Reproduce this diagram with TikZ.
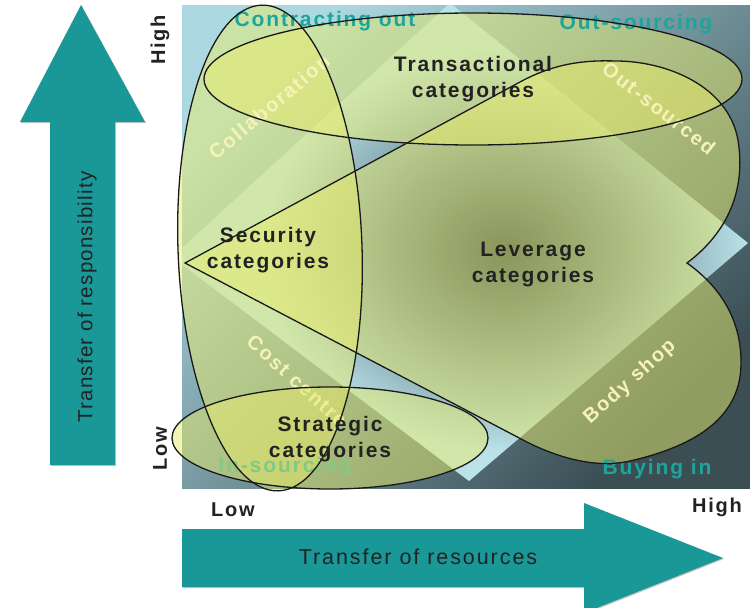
\documentclass[tikz,border=0pt]{standalone}
\usepackage{fontspec}
\setmainfont{Liberation Sans}
\newfontfamily\trk[LetterSpace=9]{Liberation Sans}
\newfontfamily\trknarrow[LetterSpace=6]{Liberation Sans}
\usetikzlibrary{fadings}
\definecolor{bgtl}{RGB}{172,216,226}
\definecolor{bgbr}{RGB}{58,78,84}
\definecolor{palec}{RGB}{186,226,232}
\definecolor{darkc}{RGB}{44,62,74}
\definecolor{ovl}{RGB}{232,236,108}
\definecolor{arrowteal}{RGB}{26,152,152}
\definecolor{cornerc}{RGB}{30,165,155}
\definecolor{edgec}{RGB}{246,242,184}
\definecolor{txtc}{RGB}{34,34,34}
\tikzfading[name=ctrfade, inner color=transparent!0, outer color=transparent!100]
\newcommand\blobshape{(185,263) -- (520,82) .. controls (555,63) and (585,60) .. (616,61) .. controls (665,61) and (728,85) .. (738,140) .. controls (746,190) and (728,232) .. (687,263) .. controls (718,285) and (742,318) .. (741,365) .. controls (740,415) and (700,445) .. (630,461) .. controls (595,469) and (556,457) .. (525,441) -- cycle}
\newcommand\diamondshape{(450,3) -- (748,243) -- (469,481) -- (172,257) -- cycle}
\tikzset{
  overlayfill/.style={fill=ovl, fill opacity=0.5},
  outline/.style={draw=black!90, line width=1.3pt},
  mainlbl/.style={font=\trk\bfseries\fontsize{21}{26}\selectfont, text=txtc, align=center, inner sep=0pt},
  cornerlbl/.style={font=\trk\bfseries\fontsize{21}{25}\selectfont, text=cornerc, inner sep=0pt},
  edgelbl/.style={font=\trk\bfseries\fontsize{20}{24}\selectfont, text=edgec, inner sep=0pt},
  axislbl/.style={font=\trk\fontsize{21.5}{26}\selectfont, text=txtc, inner sep=0pt},
  vaxislbl/.style={font=\trknarrow\fontsize{20.5}{26}\selectfont, text=txtc, inner sep=0pt},
  ticklbl/.style={font=\trk\bfseries\fontsize{20}{24}\selectfont, text=txtc, inner sep=0pt},
  arrowbody/.style={fill=arrowteal},
  arrowshadow/.style={fill=black!22},
}
\begin{document}
\begin{tikzpicture}[x=1pt,y=-1pt]
\useasboundingbox (0,0) rectangle (750,608);
% background of the matrix
\shade[top color=bgtl, bottom color=bgbr, shading angle=45] (182,5) rectangle (750,488);
% pale diamond with dark centre
\begin{scope}
  \clip (182,5) rectangle (750,488);
  \fill[palec] \diamondshape;
  \clip \diamondshape;
  \fill[darkc, path fading=ctrfade] (505,250) ellipse [x radius=240, y radius=200];
\end{scope}
% translucent fills
\path[overlayfill, rotate around={2:(270,248)}] (270,248) ellipse [x radius=92, y radius=243];
\path[overlayfill] (473,79) ellipse [x radius=269, y radius=66];
\path[overlayfill] \blobshape;
% corner labels
\node[cornerlbl] (contr) at (325,21) {Contracting out};
\node[cornerlbl] (outsrc) at (636,24) {Out-sourcing};
\node[cornerlbl] (insrc) at (285,467) {In-sourcing};
\node[cornerlbl] (buyin) at (657,469) {Buying in};
% edge labels
\node[edgelbl, rotate=40] (collab) at (269,107) {Collaboration};
\node[edgelbl, rotate=-38] (outsd) at (659,108) {Out-sourced};
\node[edgelbl, rotate=42] (body) at (630,382) {Body shop};
\node[edgelbl, rotate=-42] (cost) at (297,381) {Cost centre};
\path[overlayfill] (330,438) ellipse [x radius=158, y radius=51];
% outlines
\draw[outline, rotate around={2:(270,248)}] (270,248) ellipse [x radius=92, y radius=243];
\draw[outline] (473,79) ellipse [x radius=269, y radius=66];
\draw[outline] \blobshape;
\draw[outline] (330,438) ellipse [x radius=158, y radius=51];
% category labels
\node[mainlbl] (trans) at (473,79) {Transactional\\categories};
\node[mainlbl] (sec) at (268,250) {Security\\categories};
\node[mainlbl] (lev) at (533,264) {Leverage\\categories};
\node[mainlbl] (strat) at (330,439) {Strategic\\categories};
% axis arrows
\fill[arrowshadow] (51,466) -- (51,123) -- (21,123) -- (82,6) -- (146,123) -- (116,123) -- (116,466) -- cycle;
\fill[arrowbody] (50,465) -- (50,122) -- (20,122) -- (81,5) -- (145,122) -- (115,122) -- (115,465) -- cycle;
\fill[arrowshadow] (183,530) -- (585,530) -- (585,504) -- (724,559) -- (585,614) -- (585,588) -- (183,588) -- cycle;
\fill[arrowbody] (182,529) -- (584,529) -- (584,503) -- (723,558) -- (584,613) -- (584,587) -- (182,587) -- cycle;
\node[vaxislbl, rotate=90] (resp) at (87,297) {Transfer of responsibility};
\node[axislbl] (res) at (418,557) {Transfer of resources};
\node[ticklbl] (lowx) at (233,510) {Low};
\node[ticklbl] (highx) at (717,507) {High};
\node[ticklbl, rotate=90] (highy) at (160,40) {High};
\node[ticklbl, rotate=90] (lowy) at (160,449) {Low};
\end{tikzpicture}
\end{document}
